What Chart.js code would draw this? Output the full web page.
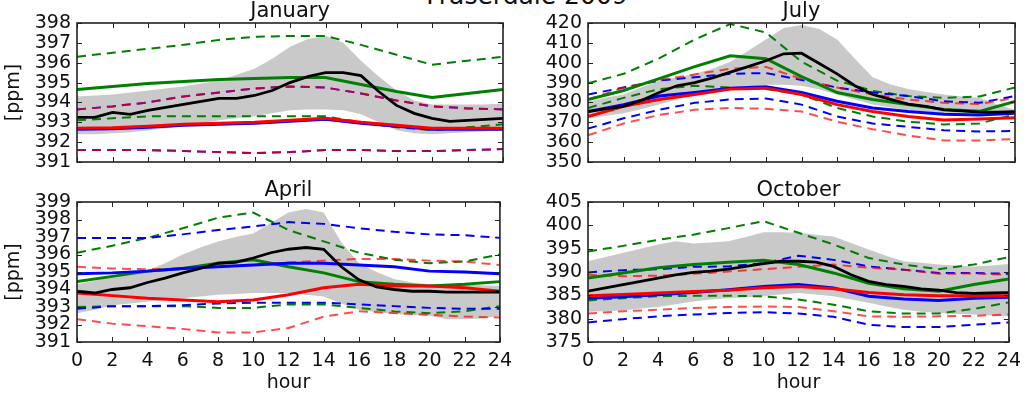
<!DOCTYPE html>
<html>
<head>
<meta charset="utf-8">
<script src="https://cdn.jsdelivr.net/npm/chart.js@4.4.1/dist/chart.umd.min.js"></script>
<style>
    body { margin: 0; background: #fff; width: 1029px; height: 402px; overflow: hidden; position: relative; font-family: "DejaVu Sans", sans-serif; }
    canvas { position: absolute; }
    #suptitle { position: absolute; left: 327px; top: -16px; width: 400px; text-align: center; font-size: 25px; line-height: 24px; color: #111; white-space: nowrap; }
</style>
</head>
<body>
<div id="suptitle">Fraserdale 2009</div>
<canvas id="jan" width="520" height="185" style="left:0;top:0"></canvas>
<canvas id="jul" width="518" height="185" style="left:511px;top:0"></canvas>
<canvas id="apr" width="520" height="232" style="left:0;top:170px"></canvas>
<canvas id="oct" width="518" height="232" style="left:511px;top:170px"></canvas>
<script>
// hours of day
const hours = [0,1,2,3,4,5,6,7,8,9,10,11,12,13,14,15,16,17,18,19,20,21,22,23,24];
const evenHours = [0,2,4,6,8,10,12,14,16,18,20,22,24];

// y tick ranges [min, max, step]
const janTicks = [391, 398, 1];
const julTicks = [350, 420, 10];
const aprTicks = [391, 399, 1];
const octTicks = [375, 405, 5];

// January
const janBandHi = [394.3,394.35,394.4,394.5,394.6,394.7,394.8,394.95,395.1,395.4,395.7,396.2,396.8,397.2,397.35,397.0,396.1,395.3,394.6,394.1,393.9,393.9,393.9,393.9,393.95];
const janBandLo = [392.4,392.4,392.45,392.5,392.6,392.7,392.8,392.95,393.1,393.2,393.3,393.45,393.6,393.65,393.65,393.6,393.4,393.0,392.6,392.45,392.4,392.45,392.5,392.55,392.6];
const janBlack = [393.25,393.25,393.5,393.4,393.6,393.75,393.9,394.05,394.2,394.2,394.35,394.6,395.0,395.3,395.5,395.5,395.35,394.55,393.85,393.45,393.2,393.05,393.1,393.15,393.2];
const janGreen = [394.65,394.8,394.95,395.05,395.15,395.2,395.25,395.25,394.9,394.55,394.25,394.45,394.65];
const janGreenHi = [396.3,396.5,396.7,396.9,397.15,397.3,397.35,397.35,396.9,396.4,395.9,396.1,396.3];
const janGreenLo = [393.1,393.2,393.3,393.3,393.3,393.3,393.3,393.3,393.0,392.75,392.6,392.75,392.9];
const janBlue = [392.65,392.68,392.75,392.85,392.9,392.95,393.05,393.15,392.95,392.8,392.65,392.65,392.65];
const janBlueHi = [393.65,393.8,394.0,394.3,394.5,394.7,394.8,394.75,394.45,394.1,393.8,393.7,393.65];
const janBlueLo = [391.6,391.6,391.6,391.55,391.5,391.45,391.5,391.6,391.6,391.55,391.55,391.6,391.65];
const janRed = [392.7,392.72,392.8,392.9,392.95,393.0,393.1,393.2,393.0,392.85,392.7,392.7,392.7];
const janRedHi = [393.65,393.8,394.0,394.3,394.5,394.7,394.8,394.75,394.45,394.1,393.8,393.7,393.65];
const janRedLo = [391.6,391.6,391.6,391.55,391.5,391.45,391.5,391.6,391.6,391.55,391.55,391.6,391.65];

// July
const julBandHi = [380.5,382.5,384,387.5,391,392.5,394.4,397,400.5,406,411.7,417.5,419,417,411.7,402,392.7,389,386.7,385.3,384,383,382.3,379,376.3];
const julBandLo = [372,373.3,374.6,376.7,378.9,381.5,384,385.4,386.7,387.8,388.9,388.9,388.4,386.5,384,381.5,378.9,377.5,376.3,375.4,374.6,374.3,374,374,374];
const julBlack = [375.4,376.7,378,381,385,388.4,390,392.4,395.3,398,401,404.5,404.8,399.6,394.4,388.4,384,381.5,379.2,378,376.3,375.7,375.1,375.1,375.4];
const julGreen = [381.5,386,392,398,403.5,402,393,385,381.5,379,376.5,375.5,380.5];
const julGreenHi = [389.6,394.4,402.2,411.7,419.5,415.2,400.5,391,385.8,383.2,382.3,383,387.5];
const julGreenLo = [377.2,382.3,386.7,388.4,387.5,386.7,384,377.2,372.9,370.3,368.9,369.4,374];
const julBlue = [375.4,378.9,383.2,385,387.2,387.9,385,380.6,377.2,375.4,374,373.7,374.6];
const julBlueHi = [384,387.5,391,392.7,394.4,394.8,391.3,387.5,385,383.2,380.6,379.8,383.2];
const julBlueLo = [366.8,372,376.3,379.8,381.5,382,378.9,372.9,369.4,367.7,366,365.4,365.6];
const julRed = [372.9,378,381.5,384,386.7,387.2,384,378.9,375.4,372.9,371.1,371.6,372.3];
const julRedHi = [381.5,387.5,391.3,394.1,397,397.9,391.8,387.5,384,381.5,379.8,379.2,382.3];
const julRedLo = [363.4,369.4,373.7,376.3,377.2,376.8,375.4,370.3,366.5,363.4,360.8,360.8,361.6];

// April
const aprBandHi = [394.3,394.5,394.75,394.9,395.1,395.5,396,396.4,396.75,397.0,397.2,397.8,398.4,398.6,398.4,396.7,395.5,395.0,394.6,394.4,394.3,394.3,394.3,394.25,394.2];
const aprBandLo = [392.65,392.85,393.1,393.2,393.3,393.4,393.5,393.6,393.7,393.75,393.8,393.8,393.8,393.7,393.6,393.2,392.85,392.7,392.6,392.55,392.5,392.3,392.3,392.35,392.5];
const aprBlack = [393.9,393.8,394.0,394.1,394.4,394.65,394.95,395.2,395.5,395.55,395.8,396.1,396.3,396.4,396.3,395.3,394.55,394.15,394.0,393.9,393.9,393.85,393.85,393.85,393.85];
const aprGreen = [394.45,394.75,395.05,395.2,395.5,395.7,395.3,394.95,394.45,394.3,394.2,394.3,394.45];
const aprGreenHi = [396.1,396.5,396.95,397.5,398.1,398.4,397.4,396.75,396.1,395.7,395.5,395.6,396.0];
const aprGreenLo = [393.0,393.05,393.05,393.05,392.95,392.95,393.15,393.15,392.95,392.75,392.65,392.75,393.05];
const aprBlue = [394.9,394.95,395.05,395.2,395.3,395.4,395.5,395.5,395.4,395.3,395.05,395.0,394.9];
const aprBlueHi = [396.95,396.95,396.95,397.15,397.4,397.6,397.85,397.75,397.5,397.3,397.15,397.1,396.95];
const aprBlueLo = [392.9,393.05,393.05,393.1,393.2,393.25,393.25,393.25,393.15,393.05,392.95,392.9,392.9];
const aprRed = [393.8,393.65,393.5,393.4,393.3,393.4,393.7,394.1,394.3,394.2,394.2,394.1,393.9];
const aprRedHi = [395.3,395.2,395.15,395.2,395.3,395.4,395.55,395.65,395.75,395.75,395.65,395.6,395.4];
const aprRedLo = [392.3,392.05,391.9,391.75,391.55,391.55,391.8,392.45,392.75,392.65,392.55,392.45,392.4];

// October
const octBandHi = [392.3,393.2,394.1,395.0,395.9,396.6,396.1,396.3,396.6,397.5,398.5,398.5,398.4,398.0,397.6,396.2,394.8,393.5,392.3,392.0,391.6,391.4,391.2,391.4,391.7];
const octBandLo = [381.5,381.6,381.8,382.2,382.5,383.1,383.7,384.1,384.4,384.6,384.8,385.2,385.5,385.2,384.8,384.1,383.4,382.6,381.9,381.5,381.2,381.0,380.9,380.7,380.5];
const octBlack = [385.9,386.6,387.3,388.0,388.7,389.4,389.9,390.2,390.6,391.2,391.8,392.3,392.3,392.1,391.2,389.4,388.0,387.3,386.9,386.4,386.1,385.6,385.4,385.5,385.6];
const octGreen = [388.7,389.8,390.9,391.6,392.1,392.5,391.6,389.8,387.6,386.4,385.9,387.3,388.5];
const octGreenHi = [394.4,395.6,396.9,398.0,399.4,400.9,398.4,395.9,393.0,391.6,390.6,391.6,393.2];
const octGreenLo = [383.9,384.4,384.8,384.9,384.9,384.8,384.1,383.0,381.6,381.1,381.1,382.1,383.5];
const octBlue = [384.4,384.7,385.1,385.6,386.2,386.9,387.3,386.6,384.8,384.2,383.9,384.4,384.6];
const octBlueHi = [389.9,390.4,390.6,391.1,391.2,391.9,393.5,392.6,391.2,390.5,389.8,389.8,389.6];
const octBlueLo = [379.2,379.9,380.5,380.9,381.2,381.4,381.1,380.4,378.7,378.2,378.2,378.7,379.2];
const octRed = [384.9,385.2,385.5,385.8,386.1,386.6,386.9,386.4,385.6,385.1,384.9,384.9,384.9];
const octRedHi = [389.4,389.1,389.2,389.6,390.1,390.6,391.1,391.6,390.9,390.5,389.6,389.7,389.4];
const octRedLo = [381.1,381.6,381.9,382.3,382.5,382.6,382.5,381.6,380.5,380.4,380.5,380.6,380.9];

const TEXT = '#111';
const GREEN = '#008000';
const BLUE = '#0000ff';
const RED = '#ff0000';
const BAND = '#c9c9c9';

document.addEventListener("DOMContentLoaded", () => {
    Chart.defaults.font.family = "'DejaVu Sans', sans-serif";
    Chart.defaults.color = TEXT;

    makeChart('jan', {
        title: 'January', ticks: janTicks, bottomRow: false, yTitle: true, padTop: 23, padRight: 17, xHeight: 23,
        s: { bandHi: janBandHi, bandLo: janBandLo, black: janBlack, green: janGreen, greenHi: janGreenHi, greenLo: janGreenLo,
             blue: janBlue, blueHi: janBlueHi, blueLo: janBlueLo, red: janRed, redHi: janRedHi, redLo: janRedLo }
    });
    makeChart('jul', {
        title: 'July', ticks: julTicks, bottomRow: false, yTitle: false, padTop: 23, padRight: 14, xHeight: 23,
        s: { bandHi: julBandHi, bandLo: julBandLo, black: julBlack, green: julGreen, greenHi: julGreenHi, greenLo: julGreenLo,
             blue: julBlue, blueHi: julBlueHi, blueLo: julBlueLo, red: julRed, redHi: julRedHi, redLo: julRedLo }
    });
    makeChart('apr', {
        title: 'April', ticks: aprTicks, bottomRow: true, yTitle: true, padTop: 32, padRight: 17, xHeight: 60,
        s: { bandHi: aprBandHi, bandLo: aprBandLo, black: aprBlack, green: aprGreen, greenHi: aprGreenHi, greenLo: aprGreenLo,
             blue: aprBlue, blueHi: aprBlueHi, blueLo: aprBlueLo, red: aprRed, redHi: aprRedHi, redLo: aprRedLo }
    });
    makeChart('oct', {
        title: 'October', ticks: octTicks, bottomRow: true, yTitle: false, padTop: 32, padRight: 14, xHeight: 60,
        s: { bandHi: octBandHi, bandLo: octBandLo, black: octBlack, green: octGreen, greenHi: octGreenHi, greenLo: octGreenLo,
             blue: octBlue, blueHi: octBlueHi, blueLo: octBlueLo, red: octRed, redHi: octRedHi, redLo: octRedLo }
    });
});

// frame, inward ticks on all four sides and panel title
const framePlugin = {
    id: 'frame',
    afterDraw(chart, args, opts) {
        const { ctx, chartArea: a, scales } = chart;
        const len = 5;
        ctx.save();
        ctx.strokeStyle = '#222';
        ctx.lineWidth = 1;
        ctx.beginPath();
        scales.x.ticks.forEach(t => {
            const px = Math.round(scales.x.getPixelForValue(t.value)) + 0.5;
            ctx.moveTo(px, a.bottom); ctx.lineTo(px, a.bottom - len);
            ctx.moveTo(px, a.top); ctx.lineTo(px, a.top + len);
        });
        scales.y.ticks.forEach(t => {
            const py = Math.round(scales.y.getPixelForValue(t.value)) + 0.5;
            ctx.moveTo(a.left, py); ctx.lineTo(a.left + len, py);
            ctx.moveTo(a.right, py); ctx.lineTo(a.right - len, py);
        });
        ctx.stroke();

        ctx.lineWidth = 1.6;
        ctx.strokeRect(a.left, a.top, a.right - a.left, a.bottom - a.top);

        ctx.fillStyle = TEXT;
        ctx.font = "21px 'DejaVu Sans', sans-serif";
        ctx.textAlign = 'center';
        ctx.textBaseline = 'alphabetic';
        ctx.fillText(opts.label, (a.left + a.right) / 2, a.top - 6);
        ctx.restore();
    }
};

function line(xs, ys, color, width, dashed, order) {
    return {
        data: xs.map((x, i) => ({ x: x, y: ys[i] })),
        borderColor: color,
        borderWidth: width,
        borderDash: dashed ? [9, 6] : [],
        pointRadius: 0,
        tension: 0,
        fill: false,
        order: order
    };
}

function buildDatasets(s) {
    const hi = line(hours, s.bandHi, 'rgba(0,0,0,0)', 0, false, 20);
    hi.fill = '+1';
    hi.backgroundColor = BAND;
    const lo = line(hours, s.bandLo, 'rgba(0,0,0,0)', 0, false, 20);
    return [
        hi, lo,
        line(evenHours, s.greenHi, GREEN, 2, true, 9),
        line(evenHours, s.greenLo, GREEN, 2, true, 9),
        line(evenHours, s.blueHi, BLUE, 2, true, 8),
        line(evenHours, s.blueLo, BLUE, 2, true, 8),
        line(evenHours, s.redHi, 'rgba(255,0,0,0.7)', 2, true, 7),
        line(evenHours, s.redLo, 'rgba(255,0,0,0.7)', 2, true, 7),
        line(evenHours, s.green, GREEN, 3, false, 4),
        line(evenHours, s.blue, BLUE, 3, false, 3),
        line(evenHours, s.red, RED, 3, false, 2),
        line(hours, s.black, '#000', 2.8, false, 1)
    ];
}

function makeChart(id, cfg) {
    const canvas = document.getElementById(id);
    return new Chart(canvas.getContext('2d'), {
        type: 'line',
        data: { datasets: buildDatasets(cfg.s) },
        options: {
            responsive: false,
            animation: false,
            layout: { padding: { left: 0, right: cfg.padRight, top: cfg.padTop, bottom: 0 } },
            plugins: {
                legend: { display: false },
                tooltip: { enabled: false },
                frame: { label: cfg.title }
            },
            scales: {
                x: {
                    type: 'linear', min: 0, max: 24,
                    ticks: { display: cfg.bottomRow, stepSize: 2, autoSkip: false, maxRotation: 0, padding: 8, font: { size: 19 } },
                    grid: { display: false, drawTicks: false },
                    border: { display: false },
                    title: { display: cfg.bottomRow, text: 'hour', font: { size: 19 }, padding: { top: 0, bottom: 8 } },
                    afterFit: (scale) => { scale.height = cfg.xHeight; }
                },
                y: {
                    type: 'linear', min: cfg.ticks[0], max: cfg.ticks[1],
                    ticks: { stepSize: cfg.ticks[2], autoSkip: false, padding: 6, font: { size: 19 } },
                    grid: { display: false, drawTicks: false },
                    border: { display: false },
                    title: { display: cfg.yTitle, text: '[ppm]', font: { size: 19 }, padding: { top: 3, bottom: 0 } },
                    afterFit: (scale) => { scale.width = 77; }
                }
            }
        },
        plugins: [framePlugin]
    });
}
</script>
</body>
</html>
